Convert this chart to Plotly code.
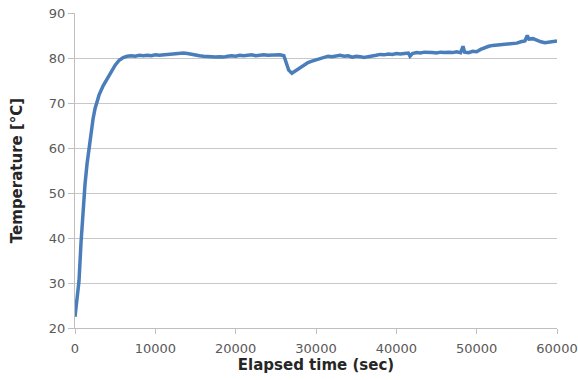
import plotly.graph_objects as go

time_sec = [0, 250, 500, 750, 1000, 1250, 1500, 1750, 2000, 2250, 2500, 2750, 3000,
            3500, 4000, 4500, 5000, 5500, 6000, 6500,
            7000, 7500, 8000, 8500, 9000, 9500, 10000, 10500, 11000, 11500, 12000,
            12500, 13000, 13500, 14000, 14500, 15000, 15500, 16000, 16500, 17000,
            17500, 18000, 18500, 19000, 19500, 20000, 20500, 21000, 21500, 22000,
            22500, 23000, 23500, 24000, 24500, 25000, 25500, 26000, 26300, 26600,
            27000, 27500, 28000, 28500, 29000, 29500, 30000, 30500, 31000, 31500,
            32000, 32500, 33000, 33500, 34000, 34500, 35000, 35500, 36000, 36500,
            37000, 37500, 38000, 38500, 39000, 39500, 40000, 40500, 41000, 41500,
            41700, 42000, 42500, 43000, 43500, 44000, 44500, 45000, 45500, 46000,
            46500, 47000, 47500, 48000, 48300, 48500, 49000, 49500, 50000, 50500,
            51000, 51500, 52000, 52500, 53000, 53500, 54000, 54500, 55000, 55500,
            56000, 56300, 56500, 57000, 57500, 58000, 58500, 59000, 59500, 60000]

temperature_c = [22.5, 26.0, 30.5, 39.0, 46.0, 52.0, 56.5, 60.0, 63.5, 66.5, 68.8, 70.5, 71.8,
                 73.8, 75.4, 77.0, 78.4, 79.5, 80.1, 80.4,
                 80.5, 80.4, 80.6, 80.5, 80.6, 80.5, 80.7, 80.6, 80.7, 80.8, 80.8,
                 80.9, 81.0, 81.1, 81.0, 80.8, 80.6, 80.5, 80.4, 80.3, 80.2,
                 80.2, 80.3, 80.2, 80.4, 80.5, 80.4, 80.6, 80.5, 80.6, 80.7,
                 80.5, 80.6, 80.7, 80.6, 80.6, 80.7, 80.7, 80.5, 79.0, 77.3,
                 76.6, 77.2, 77.9, 78.5, 79.0, 79.3, 79.6, 79.9, 80.2, 80.4,
                 80.3, 80.5, 80.6, 80.4, 80.5, 80.2, 80.4, 80.3, 80.1, 80.3,
                 80.4, 80.6, 80.8, 80.7, 80.9, 80.8, 81.0, 80.9, 81.0, 81.1,
                 80.4, 81.0, 81.2, 81.1, 81.3, 81.3, 81.2, 81.1, 81.3, 81.2,
                 81.3, 81.2, 81.4, 81.2, 82.6, 81.3, 81.2, 81.5, 81.4, 81.9,
                 82.3, 82.6, 82.8, 82.9, 83.0, 83.1, 83.2, 83.3, 83.3, 83.6,
                 83.8, 85.0, 84.2, 84.3, 83.9, 83.6, 83.4, 83.5, 83.6, 83.8]

x_ticks = [0, 10000, 20000, 30000, 40000, 50000, 60000]
y_ticks = [20, 30, 40, 50, 60, 70, 80, 90]

fig = go.Figure()
fig.add_trace(go.Scatter(
    x=time_sec, y=temperature_c, mode="lines",
    line=dict(color="#4a7ebb", width=3.5),
    showlegend=False,
))

font_family = "DejaVu Sans"
fig.update_layout(
    width=578, height=380,
    margin=dict(l=75, r=21, t=13, b=52, autoexpand=False),
    paper_bgcolor="white", plot_bgcolor="white",
    font=dict(family=font_family, size=13, color="#595959"),
)
fig.update_xaxes(
    range=[0, 60000], tickvals=x_ticks, ticktext=[str(v) for v in x_ticks],
    showgrid=False, zeroline=False, automargin=False,
    showline=True, linecolor="#bfbfbf", linewidth=1,
    ticks="outside", ticklen=5, tickcolor="#bfbfbf",
    ticklabelstandoff=3, ticklabeloverflow="allow",
    tickfont=dict(size=13, color="#595959"),
    title=dict(text="<b>Elapsed time (sec)</b>", font=dict(size=15, color="#262626"), standoff=3),
)
fig.update_yaxes(
    range=[20, 90], tickvals=y_ticks,
    showgrid=True, gridcolor="#c8c8c8", gridwidth=1, zeroline=False, automargin=False,
    showline=True, linecolor="#bfbfbf", linewidth=1,
    ticks="outside", ticklen=6, tickcolor="#bfbfbf",
    ticklabeloverflow="allow",
    tickfont=dict(size=13, color="#595959"),
    title=dict(text="<b>Temperature [°C]</b>", font=dict(size=15, color="#262626"), standoff=22),
)

fig.write_html("out.html", config={"displayModeBar": False},
               post_script="document.body.style.margin='0px';")
